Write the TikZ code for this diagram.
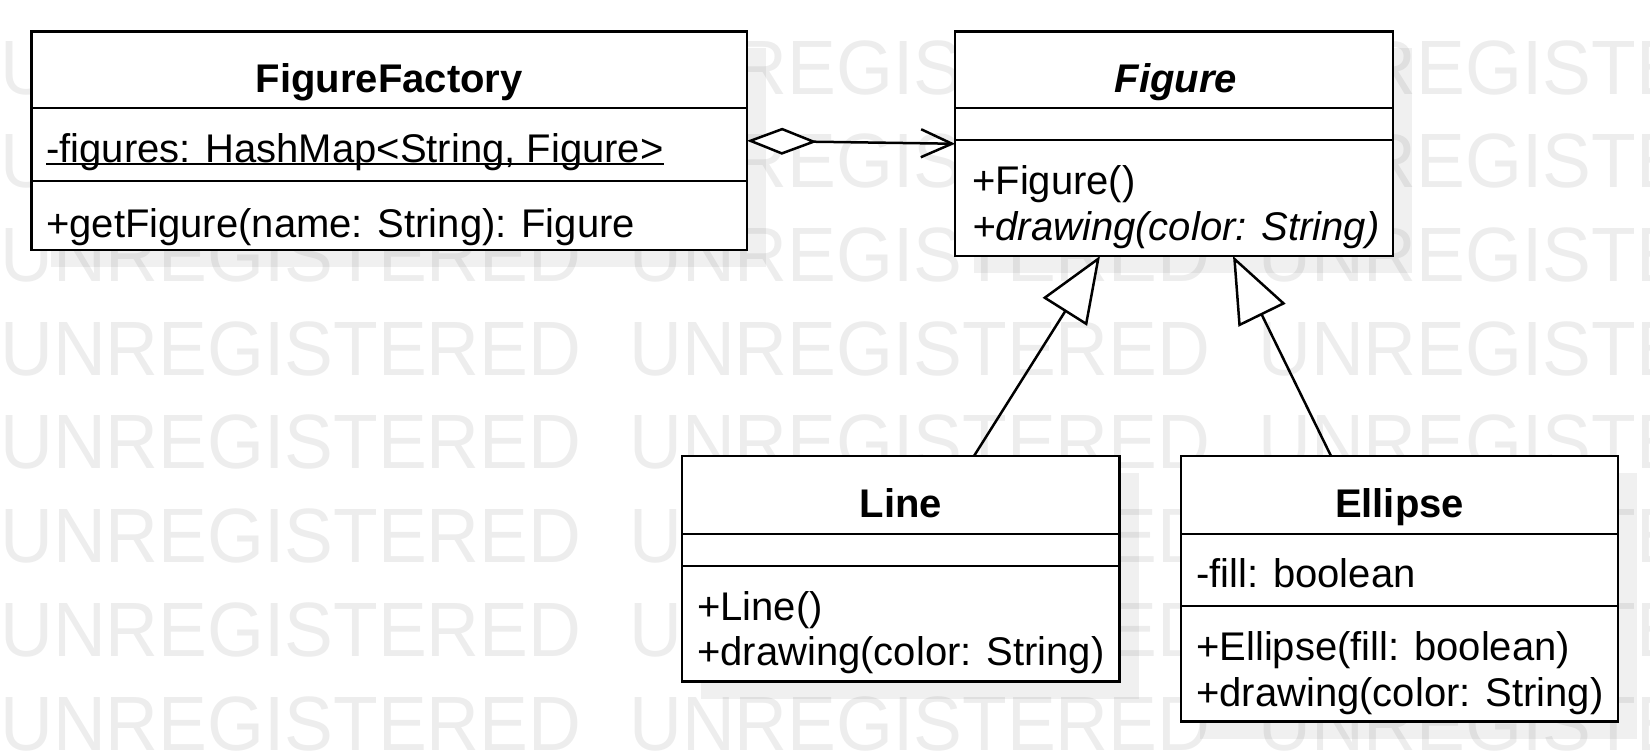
\documentclass[tikz,border=0pt]{standalone}
\usepackage{fontspec}
\setmainfont{Liberation Sans}
\newfontfamily\wmfont{Liberation Sans}[FakeStretch=0.95]
\usetikzlibrary{arrows.meta,backgrounds}
\tikzset{
  classbox/.style={draw=black, line width=2.8bp, fill=white, inner sep=0pt, outer sep=0pt, anchor=north west},
  divider/.style={draw=black, line width=2.8bp},
  conn/.style={draw=black, line width=2.5bp, line join=miter},
  txt/.style={anchor=base west, inner sep=0pt, font=\fontsize{40bp}{44bp}\selectfont},
  itxt/.style={anchor=base west, inner sep=0pt, font=\fontsize{40bp}{44bp}\selectfont\itshape},
  ttl/.style={anchor=base, inner sep=0pt, font=\fontsize{40bp}{44bp}\selectfont\bfseries},
  ittl/.style={anchor=base, inner sep=0pt, font=\fontsize{40bp}{44bp}\selectfont\bfseries\itshape},
  wm/.style={anchor=base west, inner sep=0pt, text=black!7, font=\wmfont\fontsize{77bp}{80bp}\selectfont},
  shadowfill/.style={fill=black, fill opacity=0.06},
  uline/.style={draw=black, line width=2bp}
}
\begin{document}
\begin{tikzpicture}[x=1bp,y=-1bp]
\useasboundingbox (0,0) rectangle (1650,753);
% class boxes
\node[classbox, minimum width=715.5bp, minimum height=218.5bp] (ff) at (31.5,31.5) {};
\node[classbox, minimum width=438bp, minimum height=224.5bp] (fig) at (955,31.5) {};
\node[classbox, minimum width=437.5bp, minimum height=225.5bp] (line) at (682,456) {};
\node[classbox, minimum width=437bp, minimum height=265.5bp] (ell) at (1181,456) {};
% compartments
\draw[divider] (31.5,108) -- (747,108);
\draw[divider] (31.5,181) -- (747,181);
\draw[divider] (955,108) -- (1393,108);
\draw[divider] (955,140) -- (1393,140);
\draw[divider] (682,534) -- (1119.5,534);
\draw[divider] (682,566) -- (1119.5,566);
\draw[divider] (1181,534) -- (1618,534);
\draw[divider] (1181,606) -- (1618,606);
% texts
\node[ttl] (fft) at (389.25,92) {FigureFactory};
\node[txt] (ffa) at (46,162) {-figures: HashMap<String, Figure>};
\draw[uline] ([yshift=-2bp]ffa.base west) -- ([yshift=-2bp]ffa.base east);
\node[txt] (ffo) at (46,237) {+getFigure(name: String): Figure};
\node[ittl] (figt) at (1176,92) {Figure};
\node[txt] (figo1) at (972,194) {+Figure()};
\node[itxt] (figo2) at (972,240) {+drawing(color: String)};
\node[ttl] (linet) at (900.75,517) {Line};
\node[txt] (lineo1) at (697,620) {+Line()};
\node[txt] (lineo2) at (697,665) {+drawing(color: String)};
\node[ttl] (ellt) at (1399.5,517) {Ellipse};
\node[txt] (ella) at (1196,587) {-fill: boolean};
\node[txt] (ello1) at (1196,660) {+Ellipse(fill: boolean)};
\node[txt] (ello2) at (1196,706) {+drawing(color: String)};
% connectors
\draw[conn, {Diamond[fill=white, length=70bp, width=27bp]}-{Straight Barb[length=31bp, width=28bp]}]
  (ff.east) -- (fig.west);
\draw[conn, -{Triangle[fill=white, length=66bp, width=52bp]}]
  ([xshift=73.25bp]line.north) -- ([xshift=-74bp]fig.south);
\draw[conn, -{Triangle[fill=white, length=66bp, width=52bp]}]
  ([xshift=-68.5bp]ell.north) -- ([xshift=59bp]fig.south);
% background: watermark and shadows
\begin{scope}[on background layer]
  \clip (0,0) rectangle (1650,753);
  \foreach \yy [count=\i] in {94,187.5,281,375,468.5,562,656,750}
    \foreach \xx [count=\j] in {0,629,1258}
      \node[wm] (wm\i-\j) at (\xx,\yy) {UNREGISTERED};
  \fill[shadowfill] (50.5,48.5) rectangle (766,267);
  \fill[shadowfill] (974,48.5) rectangle (1412,273);
  \fill[shadowfill] (701,473) rectangle (1138.5,698.5);
  \fill[shadowfill] (1200,473) rectangle (1637,738.5);
\end{scope}
\end{tikzpicture}
\end{document}
